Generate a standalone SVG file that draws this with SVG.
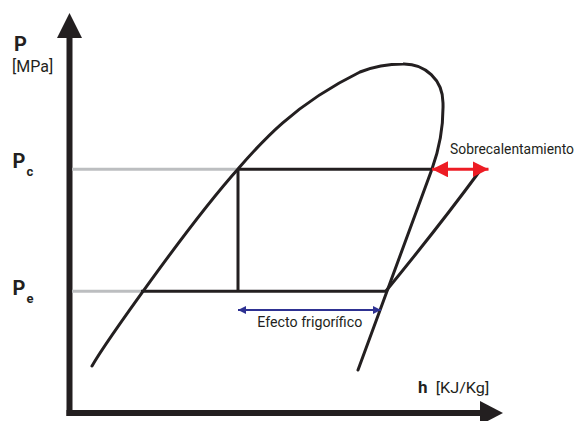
<svg xmlns="http://www.w3.org/2000/svg" width="579" height="421" viewBox="0 0 579 421">
  <defs>
    <style>
      .axis { stroke: #231f20; stroke-width: 6; fill: none; }
      .head { fill: #231f20; }
      .curve { stroke: #231f20; stroke-width: 3; fill: none; stroke-linecap: round; stroke-linejoin: round; }
      .cycle { stroke: #231f20; stroke-width: 3; fill: none; }
      .guide { stroke: #bcbec0; stroke-width: 3; fill: none; }
      .lbl { font-family: Roboto, "Liberation Sans", sans-serif; fill: #231f20; }
      .bold { font-weight: bold; }
    </style>
    <marker id="redHead" viewBox="0 0 16 16" refX="16" refY="8" markerWidth="16" markerHeight="16" markerUnits="userSpaceOnUse" orient="auto-start-reverse">
      <path d="M0,0 L16,8 L0,16 Z" fill="#ed1c24"/>
    </marker>
    <marker id="blueHead" viewBox="0 0 8 8" refX="8" refY="4" markerWidth="8" markerHeight="8" markerUnits="userSpaceOnUse" orient="auto-start-reverse">
      <path d="M0,0 L8,4 L0,8 Z" fill="#2e3192"/>
    </marker>
  </defs>
  <rect width="579" height="421" fill="#ffffff"/>

  <g id="axes">
    <line class="axis" x1="69.5" y1="35" x2="69.5" y2="416"/>
    <path class="head" d="M57,38 L69.5,13 L82,38 Z"/>
    <line class="axis" x1="66.5" y1="413" x2="482" y2="413"/>
    <path class="head" d="M480,401 L503,413 L480,425 Z"/>
  </g>

  <g id="guides">
    <line class="guide" x1="72" y1="169.3" x2="238" y2="169.3"/>
    <line class="guide" x1="72" y1="291.3" x2="141" y2="291.3"/>
  </g>

  <g id="dome">
    <path class="curve" d="M92,366 C104,345 188,225 238,169 C260,143.5 293,105 360,72 C375,66 390,64 403,64 C425,63.5 443,80 443,103 C443.5,125 440,147 432,169 L358,370"/>
  </g>

  <g id="superheat-line">
    <path class="curve" d="M386,291 Q440,225 479,172"/>
  </g>

  <g id="cycle">
    <path class="cycle" d="M141,291.3 L386,291.3 M238,169.3 L432,169.3 M238,169.3 L238,291.3"/>
  </g>

  <g id="connectors">
    <line x1="432" y1="169.3" x2="488.5" y2="169.3" stroke="#ed1c24" stroke-width="3" marker-start="url(#redHead)" marker-end="url(#redHead)"/>
    <line x1="238" y1="310" x2="381" y2="310" stroke="#2e3192" stroke-width="2" marker-start="url(#blueHead)" marker-end="url(#blueHead)"/>
  </g>

  <g id="labels">
    <text class="lbl bold" x="14" y="50.7" font-size="20">P</text>
    <text class="lbl" x="12" y="71.7" font-size="16">[MPa]</text>
    <text class="lbl bold" x="12.5" y="168.3" font-size="20">P</text>
    <text class="lbl bold" x="26.5" y="176" font-size="13">c</text>
    <text class="lbl bold" x="12.5" y="295" font-size="20">P</text>
    <text class="lbl bold" x="26.5" y="303.3" font-size="13">e</text>
    <text class="lbl bold" x="418" y="393.3" font-size="17">h</text>
    <text class="lbl" x="435.7" y="393.3" font-size="15" textLength="53.6" lengthAdjust="spacingAndGlyphs">[KJ/Kg]</text>
    <text class="lbl" x="450" y="154" font-size="14" textLength="124" lengthAdjust="spacingAndGlyphs">Sobrecalentamiento</text>
    <text class="lbl" x="257.3" y="326.7" font-size="14" textLength="105" lengthAdjust="spacingAndGlyphs">Efecto frigorífico</text>
  </g>
</svg>
